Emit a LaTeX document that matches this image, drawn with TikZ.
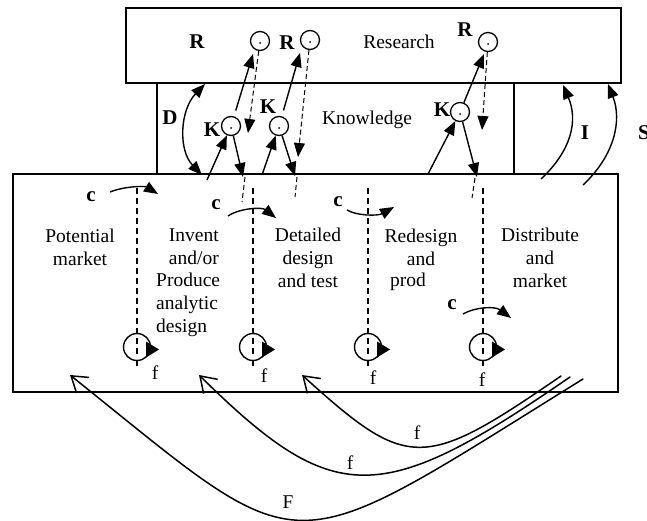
\documentclass[tikz,border=0pt]{standalone}
\usepackage{fontspec}
\setmainfont{Liberation Serif}
\usetikzlibrary{arrows.meta}
\begin{document}
\begin{tikzpicture}[x=1pt,y=-1pt,
  boxline/.style={draw,line width=1.4pt},
  arr/.style={line width=1.4pt,-{Triangle[length=14pt,width=11pt]}},
  darr/.style={line width=1pt,dash pattern=on 5pt off 3pt,-{Triangle[length=14pt,width=11pt,line width=0.8pt]}},
  dline/.style={line width=1pt,dash pattern=on 5pt off 3pt},
  divider/.style={line width=1.2pt,dash pattern=on 6pt off 4pt},
  fb/.style={line width=1.5pt,line cap=round,-{Straight Barb[length=15pt,width=20pt,line width=1.5pt]}},
  lbl/.style={inner sep=0pt,font=\fontsize{19.5}{23.3}\selectfont},
  blbl/.style={inner sep=0pt,font=\fontsize{21}{24}\selectfont\bfseries},
  rc/.style={circle,draw,line width=1.3pt,minimum size=19pt,inner sep=0pt},
  bc/.style={circle,draw,line width=1.4pt,minimum size=27pt,inner sep=0pt},
]
\useasboundingbox (0,0) rectangle (647,521);

% boxes
\draw[boxline] (126,8) rectangle (621,83);
\draw[boxline] (13,174) rectangle (618,392);
\draw[boxline] (157,83) -- (157,174);
\draw[boxline] (514,83) -- (514,174);

% texts
\node[lbl] (research) at (399,42) {Research};
\node[lbl] (knowledge) at (367,120) {Knowledge};
\node[lbl,align=center] (potential) at (80,247) {Potential\\market};
\node[lbl,align=right,anchor=east] (invent) at (219,247) {Invent\\and/or};
\node[lbl,align=left,anchor=west] (produce) at (156,305) {Produce\\analytic\\design};
\node[lbl,align=center] (detailed) at (308,258) {Detailed\\design\\and test};
\node[lbl,align=center] (redesign) at (421,247) {Redesign\\and};
\node[lbl,anchor=west] (prod) at (390,282) {prod};
\node[lbl,align=center] (distribute) at (540,258) {Distribute\\and\\market};

\node[blbl] (Rl1) at (197,42) {R};
\node[blbl] (Rl2) at (287,43) {R};
\node[blbl] (Rl3) at (465,30) {R};
\node[blbl] (Kl1) at (212,130) {K};
\node[blbl] (Kl2) at (268,107) {K};
\node[blbl] (Kl3) at (442,110) {K};
\node[blbl] (Dl) at (170,118) {D};
\node[blbl] (Il) at (585,133) {I};
\node[blbl,anchor=west] (Sl) at (638,133) {S};
\node[blbl] (cl1) at (91,197) {c};
\node[blbl] (cl2) at (216,205) {c};
\node[blbl] (cl3) at (338,202) {c};
\node[blbl] (cl4) at (452,305) {c};

% research / knowledge circles
\node[rc] (R1) at (260,41) {};
\node[rc] (R2) at (310,40) {};
\node[rc] (R3) at (488,42) {};
\node[rc] (K1) at (231,126) {};
\node[rc] (K2) at (279,126) {};
\node[rc] (K3) at (460,112) {};
\foreach \n in {R1,R2,R3,K1,K2,K3}{\fill (\n.center) ++(0,2) circle (1pt);}

% knowledge arrows
\coordinate (a1s) at (207,180);
\coordinate (a1e) at (253,54);
\coordinate (a1b) at (243,177);
\draw[arr] (a1s) -- (K1);
\draw[arr,shorten <=6pt] (K1) -- (a1e);
\draw[arr] (K1) -- (a1b);
\coordinate (r1a) at (248,133);
\coordinate (r1b) at (245,177);
\coordinate (r1c) at (242,202);
\draw[darr] (R1) -- (r1a);
\draw[dline] (r1b) -- (r1c);

\coordinate (a2s) at (262,175);
\coordinate (a2e) at (300,53);
\coordinate (a2b) at (295,176);
\draw[arr] (a2s) -- (K2);
\draw[arr,shorten <=6pt] (K2) -- (a2e);
\draw[arr] (K2) -- (a2b);
\coordinate (r2a) at (298,157);
\coordinate (r2b) at (297,177);
\coordinate (r2c) at (295,197);
\draw[darr] (R2) -- (r2a);
\draw[dline] (r2b) -- (r2c);

\coordinate (a3s) at (428,174);
\coordinate (a3e) at (484,54);
\coordinate (a3b) at (477,177);
\draw[arr] (a3s) -- (K3);
\draw[arr] (K3) -- (a3e);
\draw[arr] (K3) -- (a3b);
\coordinate (r3a) at (482,130);
\coordinate (r3b) at (475,178);
\coordinate (r3c) at (472,198);
\draw[darr] (R3) -- (r3a);
\draw[dline] (r3b) -- (r3c);

% D arrow
\coordinate (dA) at (202,175);
\coordinate (dB) at (205,84);
\draw[line width=1.4pt,{Triangle[length=14pt,width=11pt]}-{Triangle[length=14pt,width=11pt]}] (dA) .. controls (178,150) and (180,110) .. (dB);

% I arrows
\coordinate (i1s) at (541,179);
\coordinate (i1e) at (563,85);
\coordinate (i2s) at (583,185);
\coordinate (i2e) at (608,84);
\draw[arr] (i1s) .. controls (572,150) and (578,120) .. (i1e);
\draw[arr] (i2s) .. controls (615,155) and (622,120) .. (i2e);

% stage dividers with bottom circles
\foreach \x/\n in {137/1,253/2,368/3,483/4}{
  \coordinate (t\n) at (\x,188);
  \node[bc] (B\n) at (\x,347) {};
  \draw[divider] (t\n) -- (\x,356);
  \draw[line width=1.2pt] (\x,360) -- (\x,366);
  \fill (B\n.center) ++(9,-5.5) -- ++(13,8) -- ++(-13,8) -- cycle;
}
\node[lbl] (f1) at (155,373) {f};
\node[lbl] (f2) at (264,376) {f};
\node[lbl] (f3) at (373,378) {f};
\node[lbl] (f4) at (482,380) {f};

% c arrows
\coordinate (c1s) at (110,192);
\coordinate (c1e) at (158,194);
\draw[arr] (c1s) .. controls (125,186) and (145,186) .. (c1e);
\coordinate (c2s) at (228,216);
\coordinate (c2e) at (276,218);
\draw[arr] (c2s) .. controls (240,208) and (262,207) .. (c2e);
\coordinate (c3s) at (347,210);
\coordinate (c3e) at (394,207);
\draw[arr] (c3s) .. controls (357,216) and (378,216) .. (c3e);
\coordinate (c4s) at (463,314);
\coordinate (c4e) at (511,318);
\draw[arr] (c4s) .. controls (475,307) and (495,306) .. (c4e);

% feedback arrows
\coordinate (Fs) at (583,379);
\coordinate (Fe) at (70,375);
\coordinate (g2s) at (570,377);
\coordinate (g2e) at (199,375);
\coordinate (g3s) at (561,376);
\coordinate (g3e) at (302,375);
\draw[fb] (Fs) .. controls (278,568) and (311,568) .. (Fe);
\draw[fb] (g2s) .. controls (380,508) and (334,508) .. (g2e);
\draw[fb] (g3s) .. controls (423,471) and (408,471) .. (g3e);
\node[lbl] (Fl) at (288,502) {F};
\node[lbl] (fl2) at (350,463) {f};
\node[lbl] (fl3) at (417,433) {f};
\end{tikzpicture}
\end{document}
